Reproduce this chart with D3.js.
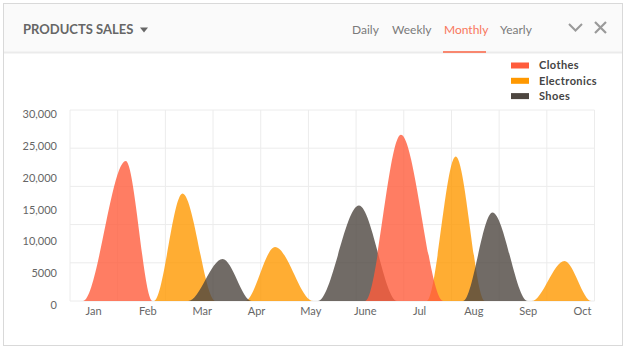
<!DOCTYPE html>
<html>
  <head>
    <title>Products Sales</title>
    <style>
      body { margin: 0; background: #fff; }
      text { font-family: Lato, "Open Sans", sans-serif; }
      .grid line { stroke: #ececec; stroke-width: 1; }
      .axis text { fill: #666; font-size: 11px; }
      .axis path, .axis line { display: none; }
      .area { fill-opacity: 0.8; }
    </style>
  </head>

  <body>
    <div id="chart"></div>

    <script src="https://d3js.org/d3.v7.min.js" type="text/javascript"></script>

<script>

  // values, x in grid units (0..11), y in sales
  var months = ["Jan", "Feb", "Mar", "Apr", "May", "June", "Jul", "Aug", "Sep", "Oct"];
  var yTicks = [0, 5000, 10000, 15000, 20000, 25000, 30000];
  var yTickLabels = ["0", "5000", "10,000", "15,000", "20,000", "25,000", "30,000"];
  var tabs = ["Daily", "Weekly", "Monthly", "Yearly"];
  var seriesNames = ["Clothes", "Electronics", "Shoes"];

  var clothes = [
    [0, 0], [0.27, 0], [1.17, 22000], [1.73, 0],
    [6.19, 0], [6.94, 26100], [7.83, 0], [11, 0]
  ];
  var electronics = [
    [0, 0], [1.76, 0], [2.36, 16900], [3.05, 0],
    [3.67, 0], [4.30, 8500], [5.10, 0],
    [7.48, 0], [8.09, 22700], [8.70, 0],
    [9.68, 0], [10.37, 6300], [10.94, 0], [11, 0]
  ];
  var shoes = [
    [0, 0], [2.48, 0], [3.20, 6600], [3.81, 0],
    [5.20, 0], [6.06, 15000], [6.86, 0],
    [8.24, 0], [8.86, 13900], [9.60, 0], [11, 0]
  ];

  var width = 627, height = 352;
  var plot = {left: 70, right: 594.5, top: 110, bottom: 301};

  var svg = d3.select("#chart")
    .append("svg")
    .attr("width", width)
    .attr("height", height);

  // card + header
  svg.append("rect")
    .attr("x", 3.5).attr("y", 3.5)
    .attr("width", 619).attr("height", 342)
    .attr("fill", "#fff")
    .attr("stroke", "#d9d9d9");

  svg.append("rect")
    .attr("x", 4).attr("y", 4)
    .attr("width", 618).attr("height", 48)
    .attr("fill", "#fafafa");

  svg.append("line")
    .attr("x1", 4).attr("x2", 622)
    .attr("y1", 52.5).attr("y2", 52.5)
    .attr("stroke", "#ebebeb")
    .attr("stroke-width", 2);

  svg.append("text")
    .attr("x", 23).attr("y", 34)
    .attr("fill", "#666")
    .style("font-size", "13px")
    .style("font-weight", "bold")
    .text("PRODUCTS SALES");

  svg.append("path")
    .attr("d", "M140,27.5L148,27.5L144,32.5Z")
    .attr("fill", "#666");

  var tabX = [352, 392, 444, 500];
  svg.selectAll(".tab")
    .data(tabs)
    .enter()
    .append("text")
    .attr("class", "tab")
    .attr("x", function(d, i){return tabX[i];})
    .attr("y", 34)
    .style("font-size", "12px")
    .attr("fill", function(d){return d == "Monthly" ? "#f8765c" : "#7a7a7a";})
    .text(function(d){return d;});

  svg.append("rect")
    .attr("x", 443).attr("y", 51)
    .attr("width", 43).attr("height", 2)
    .attr("fill", "#f8876f");

  // chevron and close icons
  svg.append("path")
    .attr("d", "M569,24L575.5,30.5L582,24")
    .attr("fill", "none")
    .attr("stroke", "#9a9a9a")
    .attr("stroke-width", 2);

  svg.append("path")
    .attr("d", "M595,22L606,33M606,22L595,33")
    .attr("fill", "none")
    .attr("stroke", "#9a9a9a")
    .attr("stroke-width", 2.2);

  // scales
  var x = d3.scaleLinear()
    .domain([0, 11])
    .range([plot.left, plot.right]);

  var y = d3.scaleLinear()
    .domain([0, 30000])
    .range([plot.bottom, plot.top]);

  var monthScale = d3.scalePoint()
    .domain(months)
    .range([93, 582]);

  // grid
  var grid = svg.append("g").attr("class", "grid");

  grid.selectAll(".vline")
    .data(d3.range(0, 12))
    .enter()
    .append("line")
    .attr("x1", function(d){return x(d);})
    .attr("x2", function(d){return x(d);})
    .attr("y1", plot.top)
    .attr("y2", plot.bottom);

  grid.selectAll(".hline")
    .data(d3.range(0, 30001, 6000))
    .enter()
    .append("line")
    .attr("x1", plot.left)
    .attr("x2", plot.right)
    .attr("y1", function(d){return y(d);})
    .attr("y2", function(d){return y(d);});

  // axes
  svg.append("g")
    .attr("class", "axis axis--y")
    .attr("transform", "translate(57,4)")
    .call(d3.axisLeft(y)
      .tickValues(yTicks)
      .tickSize(0)
      .tickPadding(0)
      .tickFormat(function(d, i){return yTickLabels[i];}));

  svg.append("g")
    .attr("class", "axis axis--x")
    .attr("transform", "translate(0," + plot.bottom + ")")
    .call(d3.axisBottom(monthScale)
      .tickSize(0)
      .tickPadding(6));

  // areas: electronics under shoes under clothes
  var colors = {Clothes: "#ff5c3c", Electronics: "#ff9800", Shoes: "#4d4640"};

  var area = d3.area()
    .curve(d3.curveMonotoneX)
    .x(function(d){return x(d[0]);})
    .y0(y(0))
    .y1(function(d){return y(d[1]);});

  var drawOrder = [
    {name: "Electronics", values: electronics},
    {name: "Shoes", values: shoes},
    {name: "Clothes", values: clothes}
  ];

  svg.selectAll(".area")
    .data(drawOrder)
    .enter()
    .append("path")
    .attr("class", "area")
    .attr("d", function(d){return area(d.values);})
    .attr("fill", function(d){return colors[d.name];});

  // legend
  var legend = svg.selectAll(".legend")
    .data(seriesNames)
    .enter()
    .append("g")
    .attr("class", "legend")
    .attr("transform", function(d, i){return "translate(511," + (65.5 + i * 15.3) + ")";});

  legend.append("rect")
    .attr("x", 0).attr("y", -3)
    .attr("width", 18).attr("height", 6)
    .attr("fill", function(d){return colors[d];});

  legend.append("text")
    .attr("x", 28)
    .attr("dy", "0.35em")
    .attr("fill", "#444")
    .style("font-size", "11px")
    .style("font-weight", "bold")
    .style("letter-spacing", "0.4px")
    .text(function(d){return d;});

</script>
  </body>
</html>
